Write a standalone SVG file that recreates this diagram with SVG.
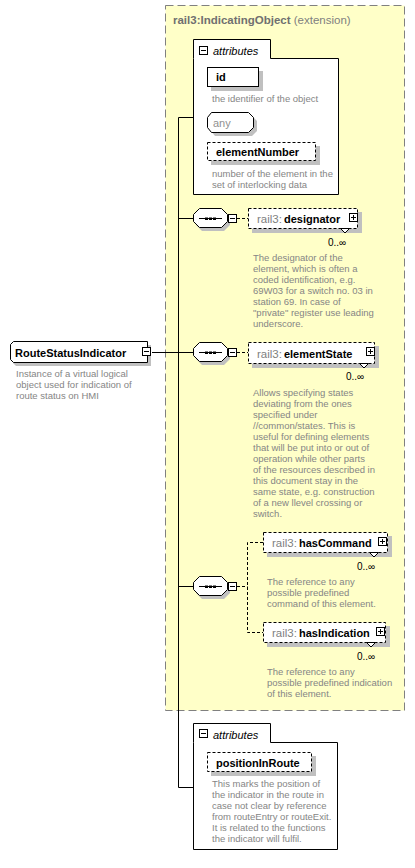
<svg xmlns="http://www.w3.org/2000/svg" width="415" height="868" viewBox="0 0 415 868">
  <style>
    text { font-family: "Liberation Sans", Arial, sans-serif; }
    .name { font-size: 11px; font-weight: bold; fill: #000; }
    .pfx { font-size: 11.5px; fill: #808080; }
    .desc { font-size: 9.5px; fill: #858585; }
    .card { font-size: 10px; fill: #000; }
    .box { fill: #fff; stroke: #000; stroke-width: 1; }
    .dbox { fill: #fff; stroke: #000; stroke-width: 1; stroke-dasharray: 3 2; }
    .shadow { fill: #c0c0c0; stroke: none; }
    .line { fill: none; stroke: #000; stroke-width: 1; }
    .dline { fill: none; stroke: #000; stroke-width: 1; stroke-dasharray: 3 2; }
    .icon { fill: #fff; stroke: #000; stroke-width: 1; }
  </style>
  <defs>
    <!-- collapse / expand buttons -->
    <g id="minus">
      <rect class="icon" x="0.5" y="0.5" width="8" height="8"/>
      <line class="line" x1="2" y1="4.5" x2="7" y2="4.5"/>
    </g>
    <g id="plus">
      <rect class="icon" x="0.5" y="0.5" width="8" height="8"/>
      <line class="line" x1="2" y1="4.5" x2="7" y2="4.5"/>
      <line class="line" x1="4.5" y1="2" x2="4.5" y2="7"/>
    </g>
    <!-- sequence compositor -->
    <g id="seq">
      <polygon class="shadow" points="202,-7 224,-7 230,-1 230,7 224,13 202,13 196,7 196,-1"/>
      <polygon class="box" points="199.5,-9.5 221.5,-9.5 227.5,-3.5 227.5,3.5 221.5,9.5 199.5,9.5 193.5,3.5 193.5,-3.5"/>
      <line class="line" x1="199" y1="0.5" x2="222" y2="0.5"/>
      <rect x="205" y="-0.5" width="3" height="2.5" fill="#000"/>
      <rect x="209" y="-0.5" width="3" height="2.5" fill="#000"/>
      <rect x="213" y="-0.5" width="3" height="2.5" fill="#000"/>
      <use href="#minus" x="228" y="-4"/>
    </g>
  </defs>

  <!-- extension base type area -->
  <g id="extension">
    <rect x="165.5" y="5.5" width="239" height="705" fill="#ffffc8" stroke="#808080" stroke-width="1" stroke-dasharray="8 4"/>
    <text x="173" y="24" font-size="11.5"><tspan font-weight="bold" fill="#707070">rail3:IndicatingObject</tspan><tspan fill="#808080"> (extension)</tspan></text>
  </g>

  <!-- connectors -->
  <g id="connectors">
    <line class="line" x1="152" y1="352.5" x2="193" y2="352.5"/>
    <polyline class="line" points="193,117.5 178.5,117.5 178.5,787.5 193,787.5"/>
    <line class="line" x1="178" y1="218.5" x2="193" y2="218.5"/>
    <line class="line" x1="178" y1="586.5" x2="193" y2="586.5"/>
    <line class="dline" x1="237" y1="218.5" x2="248" y2="218.5"/>
    <line class="dline" x1="237" y1="352.5" x2="248" y2="352.5"/>
    <line class="dline" x1="237" y1="586.5" x2="247.5" y2="586.5"/>
    <polyline class="dline" points="263,542.5 247.5,542.5 247.5,632.5 263,632.5"/>
  </g>

  <!-- root element -->
  <g id="RouteStatusIndicator">
    <polygon class="shadow" points="16,345 151,345 151,366 16,366 13,363 13,348"/>
    <polygon class="box" points="13.5,341.5 147.5,341.5 147.5,362.5 13.5,362.5 10.5,359.5 10.5,344.5"/>
    <text class="name" x="15" y="357" font-size="11.6">RouteStatusIndicator</text>
    <use href="#minus" x="142" y="347"/>
    <text class="desc" x="16" y="377">Instance of a virtual logical</text>
    <text class="desc" x="16" y="388">object used for indication of</text>
    <text class="desc" x="16" y="399">route status on HMI</text>
  </g>

  <!-- attributes of the base type -->
  <g id="attributes1">
    <path class="box" d="M193.5,58.5 V39.5 H270.5 V58.5 H338.5 V194.5 H193.5 Z"/>
    <use href="#minus" x="199" y="46"/>
    <text x="213" y="55" font-size="11" font-style="italic" fill="#000">attributes</text>

    <g id="attr-id">
      <rect class="shadow" x="211" y="71" width="52" height="20"/>
      <rect class="box" x="207.5" y="67.5" width="51" height="19"/>
      <text class="name" x="216" y="81">id</text>
      <text class="desc" x="212" y="102">the identifier of the object</text>
    </g>

    <g id="attr-any">
      <polygon class="shadow" points="215,116 252,116 257,121 257,131 252,136 215,136 211,131 211,121"/>
      <polygon class="box" points="211.5,112.5 248.5,112.5 253.5,117.5 253.5,127.5 248.5,132.5 211.5,132.5 207.5,127.5 207.5,117.5"/>
      <text x="213" y="127" font-size="11" fill="#909090">any</text>
    </g>

    <g id="attr-elementNumber">
      <rect class="shadow" x="211" y="146" width="109" height="19"/>
      <rect class="dbox" x="207.5" y="142.5" width="108" height="18"/>
      <text class="name" x="216" y="156">elementNumber</text>
      <text class="desc" x="212" y="177">number of the element in the</text>
      <text class="desc" x="212" y="188">set of interlocking data</text>
    </g>
  </g>

  <!-- sequence 1 -->
  <g id="sequence1">
    <use href="#seq" y="218"/>
  </g>
  <g id="designator">
    <rect class="shadow" x="252" y="212" width="110" height="21"/>
    <rect class="dbox" x="248.5" y="208.5" width="109" height="20"/>
    <polygon class="icon" points="340.5,228.5 345,233 349.5,228.5"/>
    <text x="257" y="223"><tspan class="pfx">rail3:</tspan><tspan class="name" dx="2">designator</tspan></text>
    <use href="#plus" x="349" y="213"/>
    <text class="card" x="328" y="246">0..∞</text>
    <text class="desc" x="253" y="261">The designator of the</text>
    <text class="desc" x="253" y="272">element, which is often a</text>
    <text class="desc" x="253" y="283">coded identification, e.g.</text>
    <text class="desc" x="253" y="294">69W03 for a switch no. 03 in</text>
    <text class="desc" x="253" y="305">station 69. In case of</text>
    <text class="desc" x="253" y="316">"private" register use leading</text>
    <text class="desc" x="253" y="327">underscore.</text>
  </g>

  <!-- sequence 2 -->
  <g id="sequence2">
    <use href="#seq" y="352"/>
  </g>
  <g id="elementState">
    <rect class="shadow" x="252" y="346" width="127" height="22"/>
    <rect class="dbox" x="248.5" y="342.5" width="126" height="21"/>
    <polygon class="icon" points="359.5,363.5 364,368 368.5,363.5"/>
    <text x="257" y="358"><tspan class="pfx">rail3:</tspan><tspan class="name" dx="2">elementState</tspan></text>
    <use href="#plus" x="366" y="347"/>
    <text class="card" x="346" y="380">0..∞</text>
    <text class="desc" x="253" y="396">Allows specifying states</text>
    <text class="desc" x="253" y="407">deviating from the ones</text>
    <text class="desc" x="253" y="418">specified under</text>
    <text class="desc" x="253" y="429">//common/states. This is</text>
    <text class="desc" x="253" y="440">useful for defining elements</text>
    <text class="desc" x="253" y="451">that will be put into or out of</text>
    <text class="desc" x="253" y="462">operation while other parts</text>
    <text class="desc" x="253" y="473">of the resources described in</text>
    <text class="desc" x="253" y="484">this document stay in the</text>
    <text class="desc" x="253" y="495">same state, e.g. construction</text>
    <text class="desc" x="253" y="506">of a new llevel crossing or</text>
    <text class="desc" x="253" y="517">switch.</text>
  </g>

  <!-- sequence 3 -->
  <g id="sequence3">
    <use href="#seq" y="586"/>
  </g>
  <g id="hasCommand">
    <rect class="shadow" x="267" y="536" width="125" height="21"/>
    <rect class="dbox" x="263.5" y="532.5" width="124" height="20"/>
    <polygon class="icon" points="369.5,552.5 374,557 378.5,552.5"/>
    <text x="272" y="547"><tspan class="pfx">rail3:</tspan><tspan class="name" dx="2">hasCommand</tspan></text>
    <use href="#plus" x="378" y="537"/>
    <text class="card" x="357" y="570">0..∞</text>
    <text class="desc" x="267" y="585">The reference to any</text>
    <text class="desc" x="267" y="596">possible predefined</text>
    <text class="desc" x="267" y="607">command of this element.</text>
  </g>
  <g id="hasIndication">
    <rect class="shadow" x="267" y="626" width="123" height="21"/>
    <rect class="dbox" x="263.5" y="622.5" width="122" height="20"/>
    <polygon class="icon" points="366.5,642.5 371,647 375.5,642.5"/>
    <text x="272" y="637"><tspan class="pfx">rail3:</tspan><tspan class="name" dx="2">hasIndication</tspan></text>
    <use href="#plus" x="376" y="627"/>
    <text class="card" x="357" y="660">0..∞</text>
    <text class="desc" x="267" y="675">The reference to any</text>
    <text class="desc" x="267" y="686">possible predefined indication</text>
    <text class="desc" x="267" y="697">of this element.</text>
  </g>

  <!-- own attributes -->
  <g id="attributes2">
    <path class="box" d="M193.5,742.5 V723.5 H270.5 V742.5 H337.5 V849.5 H193.5 Z"/>
    <use href="#minus" x="199" y="729"/>
    <text x="213" y="739" font-size="11" font-style="italic" fill="#000">attributes</text>
    <g id="attr-positionInRoute">
      <rect class="shadow" x="211" y="756" width="105" height="20"/>
      <rect class="dbox" x="207.5" y="752.5" width="104" height="19"/>
      <text class="name" x="216" y="767">positionInRoute</text>
      <text class="desc" x="212" y="787">This marks the position of</text>
      <text class="desc" x="212" y="798">the indicator in the route in</text>
      <text class="desc" x="212" y="809">case not clear by reference</text>
      <text class="desc" x="212" y="820">from routeEntry or routeExit.</text>
      <text class="desc" x="212" y="831">It is related to the functions</text>
      <text class="desc" x="212" y="842">the indicator will fulfil.</text>
    </g>
  </g>
</svg>
